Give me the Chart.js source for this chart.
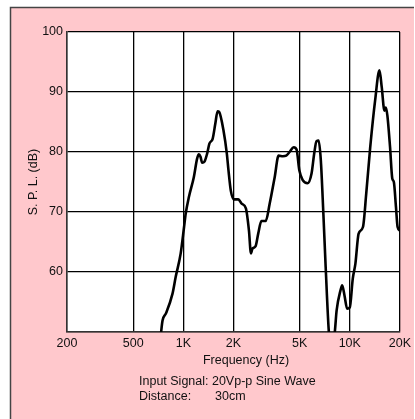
<!DOCTYPE html>
<html lang="en">
<head>
<meta charset="UTF-8">
<title>S.P.L. vs Frequency</title>
<script src="https://cdn.jsdelivr.net/npm/chart.js@4.4.1/dist/chart.umd.min.js"></script>
<style>
  html, body { margin: 0; padding: 0; background: #fff; }
  canvas { display: block; }
</style>
</head>
<body>
<canvas id="spl-chart" width="415" height="419"></canvas>
<script>
// frequency (Hz) and level (dB)
const freqs = [733, 750, 786, 861, 900, 964, 1010, 1033, 1080, 1156, 1210, 1240, 1268, 1297, 1340, 1389, 1434, 1500, 1556, 1606, 1640,
  1743, 1826, 1868, 1928, 2019, 2141, 2240, 2376, 2479, 2548, 2600, 2718, 2818, 2944, 3126, 3303, 3539, 3736, 3965, 4150,
  4347, 4605, 4790, 4980, 5215, 5586, 5892, 6110, 6310, 6500, 6700, 6940, 7165, 7500, 7680, 8107, 8337, 8806, 9000,
  9295, 9640, 10000, 10424, 10810, 11300, 12000, 12560, 13270, 14200, 15080, 15560, 16150, 16450, 16820, 17460, 18000,
  18400, 18950, 19380, 20000];
const splValues = [49.7, 51.9, 53.1, 56.4, 59.2, 63.1, 67.5, 69.7, 72.5, 75.8, 78.9, 79.6, 79.2, 78.2, 78.4, 79.7, 81.4, 82.2, 84.7, 86.8, 86.7,
  83.6, 79.7, 76.9, 73.6, 72.1, 72.1, 71.4, 70.6, 66.9, 63.1, 63.9, 64.3, 66.4, 68.5, 68.5, 71.4, 75.8, 79.4, 79.3, 79.4,
  80.0, 80.8, 80.4, 76.9, 75.3, 74.8, 76.4, 79.7, 81.8, 81.9, 78.6, 69.7, 60.8, 49.7, 48.0, 49.7, 53.6, 57.0, 57.8,
  56.1, 53.9, 54.1, 58.9, 61.4, 66.4, 67.5, 73.1, 80.8, 88.6, 93.6, 90.8, 86.9, 87.4, 86.1, 80.8, 75.6,
  75.0, 70.8, 67.5, 66.9];

const xTickValues = [200, 500, 1000, 2000, 5000, 10000, 20000];
const xTickLabels = ['200', '500', '1K', '2K', '5K', '10K', '20K'];
const yTickValues = [50, 60, 70, 80, 90, 100];

const xTitle = 'Frequency (Hz)';
const yTitle = 'S. P. L. (dB)';
const noteSignal = 'Input Signal: 20Vp-p Sine Wave';
const noteDistLabel = 'Distance:';
const noteDistValue = '30cm';

const FONT = '"Liberation Sans", Arial, Helvetica, sans-serif';
const PINK = '#ffc8cc';

// pink panel behind everything, white plot area
const panelPlugin = {
  id: 'panel',
  beforeDraw(chart) {
    const ctx = chart.ctx;
    const a = chart.chartArea;
    ctx.save();
    ctx.fillStyle = '#fff';
    ctx.fillRect(0, 0, chart.width, chart.height);
    ctx.fillStyle = PINK;
    ctx.fillRect(10, 7, 404, chart.height - 7);
    ctx.strokeStyle = '#444';
    ctx.lineWidth = 1.5;
    ctx.beginPath();
    ctx.moveTo(10.5, chart.height);
    ctx.lineTo(10.5, 7.5);
    ctx.lineTo(414, 7.5);
    ctx.stroke();
    ctx.fillStyle = '#fff';
    ctx.fillRect(a.left, a.top, a.right - a.left, a.bottom - a.top);
    ctx.restore();
  },
  afterDraw(chart) {
    const ctx = chart.ctx;
    ctx.save();
    ctx.fillStyle = '#111';
    ctx.font = '12.5px ' + FONT;
    ctx.textBaseline = 'middle';
    ctx.textAlign = 'center';
    ctx.fillText(xTitle, 246, 361);
    ctx.textAlign = 'left';
    ctx.fillText(noteSignal, 139, 382);
    ctx.fillText(noteDistLabel, 139, 397);
    ctx.fillText(noteDistValue, 215, 397);
    ctx.restore();
  }
};

const ctx = document.getElementById('spl-chart').getContext('2d');
const chart = new Chart(ctx, {
  type: 'line',
  data: {
    datasets: [{
      data: freqs.map((f, i) => ({ x: f, y: splValues[i] })),
      borderColor: '#000',
      borderWidth: 2.6,
      pointRadius: 0,
      cubicInterpolationMode: 'monotone',
      fill: false
    }]
  },
  options: {
    responsive: false,
    animation: false,
    devicePixelRatio: 1,
    layout: { padding: { top: 32, right: 11, bottom: 51, left: 0 } },
    plugins: {
      legend: { display: false },
      tooltip: { enabled: false }
    },
    scales: {
      x: {
        type: 'logarithmic',
        min: 200,
        max: 20000,
        afterBuildTicks: (scale) => { scale.ticks = xTickValues.map(v => ({ value: v })); },
        afterFit: (scale) => { scale.height = 36; },
        ticks: {
          autoSkip: false,
          maxRotation: 0,
          padding: 4,
          color: '#111',
          font: { family: FONT, size: 12.5 },
          callback: (v, i) => xTickLabels[i]
        },
        grid: { color: '#000', lineWidth: 1.3, drawTicks: false },
        border: { color: '#333', width: 1.5 }
      },
      y: {
        min: 50,
        max: 100,
        afterBuildTicks: (scale) => { scale.ticks = yTickValues.map(v => ({ value: v })); },
        afterFit: (scale) => { scale.width = 67; },
        ticks: {
          padding: 4,
          color: '#111',
          font: { family: FONT, size: 12.5 },
          callback: (v) => (v === 50 ? '' : v)
        },
        grid: { color: '#000', lineWidth: 1.3, drawTicks: false },
        border: { color: '#333', width: 1.5 },
        title: {
          display: true,
          text: yTitle,
          color: '#111',
          font: { family: FONT, size: 12.5 },
          padding: { top: 26, bottom: 0 }
        }
      }
    }
  },
  plugins: [panelPlugin]
});
</script>
</body>
</html>
